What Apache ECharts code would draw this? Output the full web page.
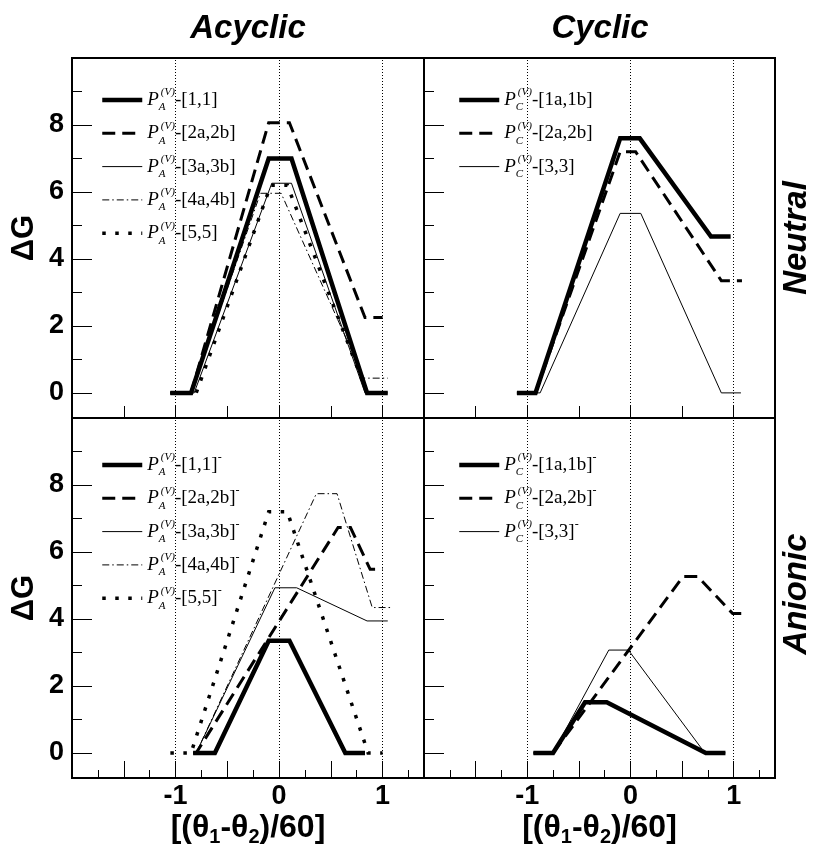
<!DOCTYPE html>
<html>
<head>
<meta charset="utf-8">
<script src="https://cdn.jsdelivr.net/npm/echarts@6/dist/echarts.min.js"></script>
<style>
  html, body { margin: 0; background: #fff; }
  #chart { width: 813px; height: 859px; }
</style>
</head>
<body>
<div id="chart"></div>
<script>
// ---- axis ticks / labels ----
const xMajorTicks = [-1.5, -1, -0.5, 0, 0.5, 1];
const xMinorTicks = [-1.75, -1.25, -0.75, -0.25, 0.25, 0.75, 1.25];
const xTickLabels = [-1, 0, 1];
const yMajorTicks = [0, 2, 4, 6, 8];
const yMinorTicks = [1, 3, 5, 7, 9];
const yTickLabels = [0, 2, 4, 6, 8];
const guideLines = [-1, 0, 1];

// ---- legend entries ----
const acyclicLabels = ['[1,1]', '[2a,2b]', '[3a,3b]', '[4a,4b]', '[5,5]'];
const cyclicLabels = ['[1a,1b]', '[2a,2b]', '[3,3]'];

// ---- Neutral / Acyclic  [x, dG] ----
const neuAcy11 = [[-1.05, 0], [-0.85, 0], [-0.1, 7.0], [0.12, 7.0], [0.85, 0], [1.05, 0]];
const neuAcy22 = [[-1.05, 0], [-0.85, 0], [-0.1, 8.07], [0.1, 8.07], [0.83, 2.25], [1.0, 2.25]];
const neuAcy33 = [[-1.05, 0], [-0.82, 0], [-0.07, 6.26], [0.12, 6.26], [0.83, 0], [1.05, 0]];
const neuAcy44 = [[-1.05, 0], [-0.85, 0], [-0.18, 5.96], [0.02, 5.96], [0.82, 0.44], [1.05, 0.44]];
const neuAcy55 = [[-1.05, 0], [-0.8, 0], [-0.08, 6.2], [0.08, 6.2], [0.85, 0], [1.05, 0]];

// ---- Neutral / Cyclic ----
const neuCyc1 = [[-1.1, 0], [-0.92, 0], [-0.1, 7.6], [0.09, 7.6], [0.78, 4.67], [0.97, 4.67]];
const neuCyc2 = [[-1.1, 0], [-0.92, 0], [-0.1, 7.2], [0.05, 7.2], [0.88, 3.35], [1.08, 3.35]];
const neuCyc3 = [[-1.1, 0], [-0.875, 0], [-0.1, 5.36], [0.1, 5.36], [0.88, 0], [1.07, 0]];

// ---- Anionic / Acyclic ----
const aniAcy11 = [[-0.83, 0], [-0.62, 0], [-0.1, 3.35], [0.1, 3.35], [0.64, 0], [0.83, 0]];
const aniAcy22 = [[-0.83, 0], [-0.8, 0], [0.57, 6.73], [0.69, 6.73], [0.88, 5.48], [1.0, 5.48]];
const aniAcy33 = [[-0.83, 0], [-0.8, 0], [-0.04, 4.93], [0.17, 4.93], [0.85, 3.94], [1.05, 3.94]];
const aniAcy44 = [[-0.83, 0], [-0.8, 0], [0.36, 7.74], [0.56, 7.74], [0.9, 4.34], [1.08, 4.34]];
const aniAcy55 = [[-1.05, 0], [-0.85, 0], [-0.1, 7.2], [0.08, 7.2], [0.86, 0], [1.0, 0]];

// ---- Anionic / Cyclic ----
const aniCyc1 = [[-0.94, 0], [-0.75, 0], [-0.44, 1.51], [-0.23, 1.51], [0.73, 0], [0.92, 0]];
const aniCyc2 = [[-0.94, 0], [-0.75, 0], [0.51, 5.27], [0.65, 5.27], [0.99, 4.16], [1.1, 4.16]];
const aniCyc3 = [[-0.94, 0], [-0.75, 0], [-0.21, 3.07], [-0.02, 3.07], [0.72, 0], [0.92, 0]];

const SANS = '"Liberation Sans", Arial, sans-serif';
const SERIF = '"Liberation Serif", "Times New Roman", serif';

const lineStyles = {
  thick: { width: 4.5, type: 'solid' },
  dashed: { width: 3, type: [13, 7] },
  thin: { width: 1, type: 'solid' },
  dashdot: { width: 1, type: [7, 3, 1.5, 3] },
  dotted: { width: 3.5, type: [3.5, 9.5] }
};
const acyclicStyles = ['thick', 'dashed', 'thin', 'dashdot', 'dotted'];
const cyclicStyles = ['thick', 'dashed', 'thin'];

const panels = [
  { rect: { left: 72, top: 58, width: 352, height: 360 }, sub: 'A', labels: acyclicLabels,
    data: [neuAcy11, neuAcy22, neuAcy33, neuAcy44, neuAcy55], styles: acyclicStyles,
    anion: false, bottom: false, left: true, legendPos: { left: 100, top: 87 } },
  { rect: { left: 424, top: 58, width: 351, height: 360 }, sub: 'C', labels: cyclicLabels,
    data: [neuCyc1, neuCyc2, neuCyc3], styles: cyclicStyles,
    anion: false, bottom: false, left: false, legendPos: { left: 457, top: 87 } },
  { rect: { left: 72, top: 418, width: 352, height: 360 }, sub: 'A', labels: acyclicLabels,
    data: [aniAcy11, aniAcy22, aniAcy33, aniAcy44, aniAcy55], styles: acyclicStyles,
    anion: true, bottom: true, left: true, legendPos: { left: 100, top: 452 } },
  { rect: { left: 424, top: 418, width: 351, height: 360 }, sub: 'C', labels: cyclicLabels,
    data: [aniCyc1, aniCyc2, aniCyc3], styles: cyclicStyles,
    anion: true, bottom: true, left: false, legendPos: { left: 457, top: 452 } }
];

const legendRich = {
  p: { fontFamily: SERIF, fontStyle: 'italic', fontSize: 19, lineHeight: 26, color: '#000' },
  sub: { fontFamily: SERIF, fontStyle: 'italic', fontSize: 11, lineHeight: 8, verticalAlign: 'bottom', width: 2, color: '#000' },
  sup: { fontFamily: SERIF, fontStyle: 'italic', fontSize: 11, lineHeight: 12, verticalAlign: 'top', color: '#000' },
  t: { fontFamily: SERIF, fontSize: 19, lineHeight: 26, color: '#000' },
  m: { fontFamily: SERIF, fontSize: 12, lineHeight: 12, verticalAlign: 'top', color: '#000' }
};

// series name -> "P_X^(V)-[..]" rich text
function legendText(name) {
  const sub = name.charAt(1);
  let rest = name.slice(2);
  let tail = '';
  if (rest.endsWith('^-')) { rest = rest.slice(0, -2); tail = '{m|-}'; }
  return '{p|P}{sub|' + sub + '}{sup|(V)}{t|' + rest + '}' + tail;
}

const grid = [], xAxis = [], yAxis = [], series = [], legend = [];

panels.forEach((pn, g) => {
  grid.push(Object.assign({ show: true, borderColor: '#000', borderWidth: 2, backgroundColor: 'transparent' }, pn.rect));

  xAxis.push({
    gridIndex: g, type: 'value', min: -2, max: 1.4, position: 'bottom',
    axisLine: { show: true, onZero: false, lineStyle: { color: '#000', width: 2 } },
    axisTick: { show: true, inside: true, length: pn.bottom ? 17 : 12, customValues: xMajorTicks,
      lineStyle: { color: '#000', width: 1 } },
    axisLabel: { show: pn.bottom, customValues: xTickLabels, formatter: v => String(v), margin: 5,
      fontFamily: SANS, fontWeight: 'bold', fontSize: 27, color: '#000' },
    splitLine: { show: false },
    name: pn.bottom ? '{t|[(θ}{s|1}{t|-θ}{s|2}{t|)/60]}' : '',
    nameLocation: 'middle', nameGap: 32,
    nameTextStyle: { rich: {
      t: { fontFamily: SANS, fontWeight: 'bold', fontSize: 32, lineHeight: 37, color: '#000' },
      s: { fontFamily: SANS, fontWeight: 'bold', fontSize: 20, lineHeight: 18, verticalAlign: 'bottom', color: '#000' }
    } }
  });
  xAxis.push({
    gridIndex: g, type: 'value', min: -2, max: 1.4, position: 'bottom',
    axisLine: { show: false, onZero: false },
    axisTick: { show: pn.bottom, inside: true, length: 8, customValues: xMinorTicks,
      lineStyle: { color: '#000', width: 1 } },
    axisLabel: { show: false }, splitLine: { show: false }
  });

  yAxis.push({
    gridIndex: g, type: 'value', min: -0.75, max: 10, position: 'left',
    axisLine: { show: true, onZero: false, lineStyle: { color: '#000', width: 2 } },
    axisTick: { show: true, inside: true, length: 20, customValues: yMajorTicks,
      lineStyle: { color: '#000', width: 1 } },
    axisLabel: { show: pn.left, customValues: yTickLabels, margin: 8,
      fontFamily: SANS, fontWeight: 'bold', fontSize: 27, color: '#000' },
    splitLine: { show: false },
    name: pn.left ? 'ΔG' : '', nameLocation: 'middle', nameRotate: 90, nameGap: 32,
    nameTextStyle: { fontFamily: SANS, fontWeight: 'bold', fontSize: 31, color: '#000' }
  });
  yAxis.push({
    gridIndex: g, type: 'value', min: -0.75, max: 10, position: 'left',
    axisLine: { show: false, onZero: false },
    axisTick: { show: true, inside: true, length: 10, customValues: yMinorTicks,
      lineStyle: { color: '#000', width: 1 } },
    axisLabel: { show: false }, splitLine: { show: false }
  });

  const names = [];
  pn.data.forEach((d, i) => {
    const name = 'P' + pn.sub + '-' + pn.labels[i] + (pn.anion ? '^-' : '');
    names.push(name);
    const st = lineStyles[pn.styles[i]];
    const s = {
      type: 'line', name: name, xAxisIndex: 2 * g, yAxisIndex: 2 * g,
      data: d, symbol: 'none', silent: true,
      itemStyle: { color: '#000' },
      lineStyle: { color: '#000', width: st.width, type: st.type, cap: 'butt', join: 'miter' },
      z: 10 - i
    };
    if (i === 0) {
      s.markLine = {
        silent: true, symbol: ['none', 'none'], label: { show: false },
        lineStyle: { color: '#000', width: 1, type: [1, 2] },
        data: guideLines.map(v => ({ xAxis: v }))
      };
    }
    series.push(s);
  });

  legend.push({
    orient: 'vertical', left: pn.legendPos.left, top: pn.legendPos.top, padding: 0,
    itemWidth: 40, itemHeight: 26, itemGap: 7.3, selectedMode: false,
    data: names, formatter: legendText,
    itemStyle: { opacity: 0 },
    lineStyle: { width: 'inherit' },
    textStyle: { rich: legendRich }
  });
});

const titleFont = 'italic bold 33px ' + SANS;
const graphic = [
  { type: 'text', x: 248, y: 29, style: { text: 'Acyclic', font: titleFont, fill: '#000', textAlign: 'center', textVerticalAlign: 'middle' } },
  { type: 'text', x: 600, y: 29, style: { text: 'Cyclic', font: titleFont, fill: '#000', textAlign: 'center', textVerticalAlign: 'middle' } },
  { type: 'text', x: 797, y: 238, rotation: Math.PI / 2, style: { text: 'Neutral', font: titleFont, fill: '#000', textAlign: 'center', textVerticalAlign: 'middle' } },
  { type: 'text', x: 797, y: 594, rotation: Math.PI / 2, style: { text: 'Anionic', font: titleFont, fill: '#000', textAlign: 'center', textVerticalAlign: 'middle' } }
];

const chart = echarts.init(document.getElementById('chart'));
chart.setOption({
  animation: false,
  backgroundColor: '#fff',
  grid, xAxis, yAxis, series, legend, graphic
});
</script>
</body>
</html>
